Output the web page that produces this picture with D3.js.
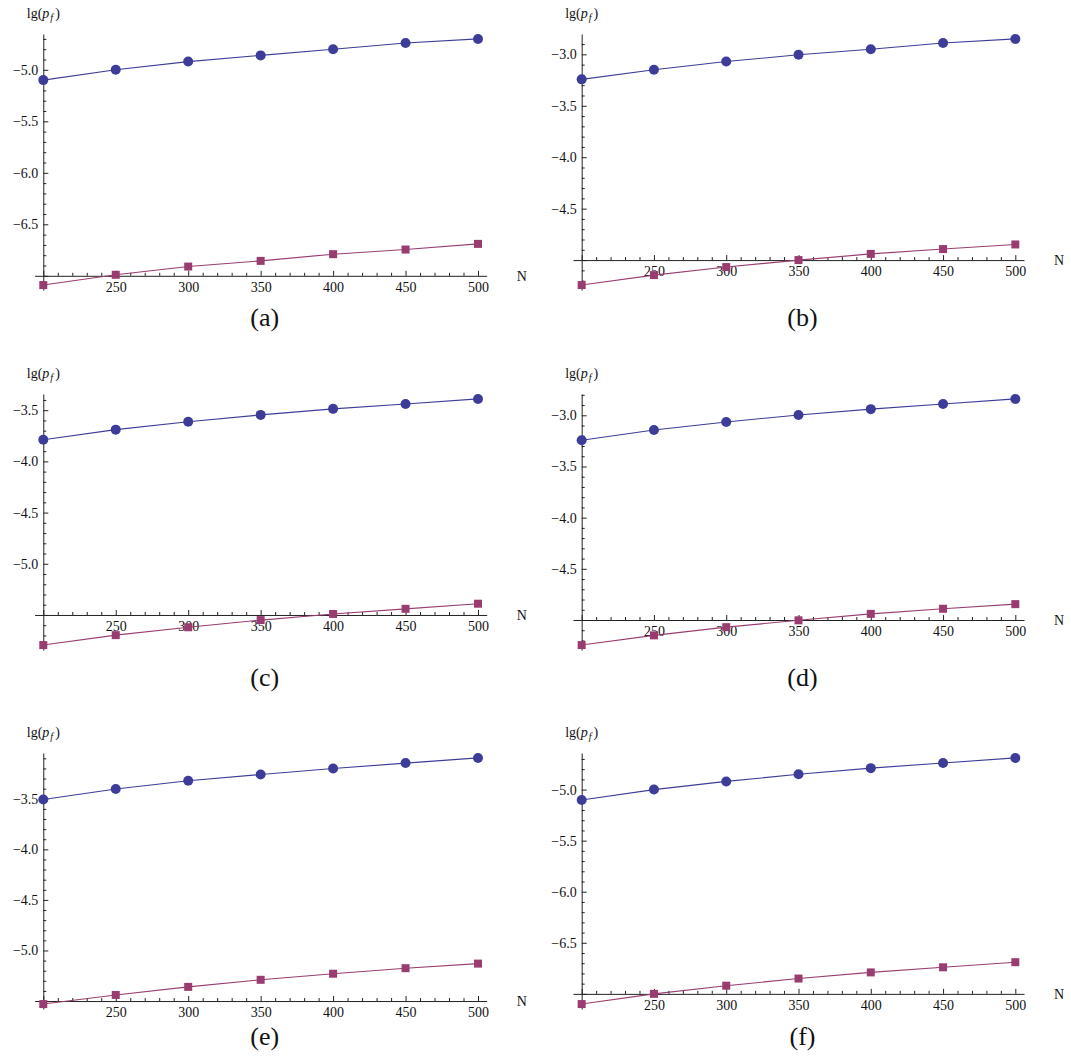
<!DOCTYPE html>
<html>
<head>
<meta charset="utf-8">
<script src="https://cdn.jsdelivr.net/npm/d3@7"></script>
<style>
  body { margin: 0; background: #fff; }
</style>
</head>
<body>
<div id="graph"></div>
<script>
//----------------------------------------------------------
// data
var g_n = [200, 250, 300, 350, 400, 450, 500];
var g_x_labels = [250, 300, 350, 400, 450, 500];
var g_panel_names = ["(a)", "(b)", "(c)", "(d)", "(e)", "(f)"];

var g_circle_a = [-5.10, -5.00, -4.92, -4.86, -4.80, -4.74, -4.70];
var g_square_a = [-7.09, -6.99, -6.91, -6.855, -6.79, -6.745, -6.69];
var g_circle_b = [-3.243, -3.149, -3.07, -3.004, -2.95, -2.89, -2.85];
var g_square_b = [-5.243, -5.146, -5.068, -5.0, -4.94, -4.893, -4.848];
var g_circle_c = [-3.788, -3.69, -3.613, -3.546, -3.487, -3.439, -3.39];
var g_square_c = [-5.794, -5.697, -5.62, -5.55, -5.49, -5.44, -5.39];
var g_circle_d = [-3.243, -3.143, -3.065, -2.997, -2.94, -2.89, -2.84];
var g_square_d = [-5.245, -5.15, -5.07, -5.003, -4.94, -4.89, -4.845];
var g_circle_e = [-3.507, -3.404, -3.322, -3.26, -3.20, -3.147, -3.096];
var g_square_e = [-5.53, -5.44, -5.36, -5.29, -5.23, -5.175, -5.13];
var g_circle_f = [-5.102, -5.0, -4.92, -4.85, -4.79, -4.74, -4.69];
var g_square_f = [-7.10, -7.0, -6.92, -6.85, -6.79, -6.74, -6.69];

// where the x axis crosses, and the labelled y ticks
var g_y_origin = [-7.0, -5.0, -5.5, -5.0, -5.5, -7.0];
var g_y_labels = [
    [-5.0, -5.5, -6.0, -6.5],
    [-3.0, -3.5, -4.0, -4.5],
    [-3.5, -4.0, -4.5, -5.0],
    [-3.0, -3.5, -4.0, -4.5],
    [-3.5, -4.0, -4.5, -5.0],
    [-5.0, -5.5, -6.0, -6.5]
];

var g_circles = [g_circle_a, g_circle_b, g_circle_c, g_circle_d, g_circle_e, g_circle_f];
var g_squares = [g_square_a, g_square_b, g_square_c, g_square_d, g_square_e, g_square_f];


//----------------------------------------------------------
// layout
var g_col_left = [34.6, 573];
var g_col_right = [486.7, 1024];
var g_row_top = [34, 394, 753];
var g_plot_height = 256;

var g_font = "Liberation Serif";
var g_blue = "#3d3d99";
var g_pink = "#993d71";

var g_svg = d3.select("#graph")
  .append("svg")
    .attr("width", 1071)
    .attr("height", 1057)
    .attr("font-family", g_font);


//----------------------------------------------------------
function Pad(lo, hi) {
    const d = (hi - lo) * 0.02;
    return [lo - d, hi + d];
}


function StyleLabels(g) {
    g.attr("font-family", g_font);
    g.selectAll("text")
        .attr("font-family", g_font)
        .attr("font-size", 14)
        .attr("fill", "#111");
}


function DrawPanel(index) {
    const col = index % 2;
    const row = Math.floor(index / 2);
    const circles = g_circles[index];
    const squares = g_squares[index];
    const origin = g_y_origin[index];

    const x_dom = Pad(d3.min(g_n), d3.max(g_n));
    const all = circles.concat(squares);
    const y_dom = Pad(d3.min(all), d3.max(all));

    const x = d3.scaleLinear()
        .domain(x_dom)
        .range([g_col_left[col], g_col_right[col]]);
    const y = d3.scaleLinear()
        .domain(y_dom)
        .range([g_row_top[row] + g_plot_height, g_row_top[row]]);

    const panel = g_svg.append("g");

    // x axis: minor then major ticks, drawn upwards
    const x_minor = d3.range(x_dom[0], x_dom[1], 1).filter(function (v) {
        return v % 10 == 0 && v % 50 != 0;
    });
    const x_major = d3.range(Math.ceil(x_dom[0] / 50) * 50, x_dom[1], 50);

    panel.append("g")
        .attr("transform", "translate(0," + y(origin) + ")")
        .call(d3.axisBottom(x).tickValues(x_minor).tickSizeInner(-3).tickSizeOuter(0).tickFormat(""))
        .call(function (g) { g.select(".domain").remove(); });

    panel.append("g")
        .attr("transform", "translate(0," + y(origin) + ")")
        .call(d3.axisBottom(x).tickValues(x_major).tickSizeInner(-5).tickSizeOuter(0).tickPadding(6)
            .tickFormat(function (v) { return g_x_labels.indexOf(v) >= 0 ? v : ""; }))
        .call(StyleLabels);

    // y axis at N = 200
    const y_lo = Math.ceil(y_dom[0] * 10 - 1e-6);
    const y_hi = Math.floor(y_dom[1] * 10 + 1e-6);
    const y_ticks = d3.range(y_lo, y_hi + 1).map(function (v) { return v / 10; });
    const y_minor = y_ticks.filter(function (v) {
        return Math.abs(v * 2 - Math.round(v * 2)) > 1e-6;
    });
    const y_major = y_ticks.filter(function (v) {
        return Math.abs(v * 2 - Math.round(v * 2)) <= 1e-6;
    });

    panel.append("g")
        .attr("transform", "translate(" + x(200) + ",0)")
        .call(d3.axisLeft(y).tickValues(y_minor).tickSizeInner(-3).tickSizeOuter(0).tickFormat(""))
        .call(function (g) { g.select(".domain").remove(); });

    const labels = g_y_labels[index];
    panel.append("g")
        .attr("transform", "translate(" + x(200) + ",0)")
        .call(d3.axisLeft(y).tickValues(y_major).tickSizeInner(-5).tickSizeOuter(0).tickPadding(5)
            .tickFormat(function (v) {
                const hit = labels.some(function (l) { return Math.abs(l - v) < 1e-6; });
                return hit ? d3.format(".1f")(v) : "";
            }))
        .call(StyleLabels);

    panel.selectAll(".domain, .tick line")
        .attr("stroke", "#222")
        .attr("stroke-width", 1);

    // axis names
    const ylab = panel.append("text")
        .attr("x", x(200))
        .attr("y", g_row_top[row] - 16)
        .attr("text-anchor", "middle")
        .attr("font-family", g_font)
        .attr("font-size", 14)
        .attr("fill", "#111");
    ylab.append("tspan").text("lg(");
    ylab.append("tspan").attr("font-style", "italic").text("p");
    ylab.append("tspan").attr("font-style", "italic").attr("font-size", 10).attr("dx", 1).attr("dy", 3).text("f");
    ylab.append("tspan").attr("dx", 2).attr("dy", -3).text(")");

    panel.append("text")
        .attr("x", x(x_dom[1]) + 35)
        .attr("y", y(origin) + 5)
        .attr("text-anchor", "middle")
        .attr("font-family", g_font)
        .attr("font-size", 14)
        .attr("fill", "#111")
        .text("N");

    // series
    const line = d3.line()
        .x(function (d, i) { return x(g_n[i]); })
        .y(function (d) { return y(d); });

    panel.append("path")
        .datum(circles)
        .attr("fill", "none")
        .attr("stroke", g_blue)
        .attr("stroke-width", 1.1)
        .attr("d", line);

    panel.append("path")
        .datum(squares)
        .attr("fill", "none")
        .attr("stroke", g_pink)
        .attr("stroke-width", 1.1)
        .attr("d", line);

    panel.selectAll("circle.pt")
        .data(circles)
        .join("circle")
          .attr("class", "pt")
          .attr("cx", function (d, i) { return x(g_n[i]); })
          .attr("cy", function (d) { return y(d); })
          .attr("r", 5)
          .attr("fill", g_blue);

    panel.selectAll("rect.pt")
        .data(squares)
        .join("rect")
          .attr("class", "pt")
          .attr("x", function (d, i) { return x(g_n[i]) - 4; })
          .attr("y", function (d) { return y(d) - 4; })
          .attr("width", 8)
          .attr("height", 8)
          .attr("fill", g_pink);

    // panel caption
    panel.append("text")
        .attr("x", (g_col_left[col] + g_col_right[col]) / 2 + 4)
        .attr("y", g_row_top[row] + 292)
        .attr("text-anchor", "middle")
        .attr("font-family", g_font)
        .attr("font-size", 26)
        .attr("fill", "#111")
        .text(g_panel_names[index]);
}


//----------------------------------------------------------
for (var i = 0; i < 6; i++) {
    DrawPanel(i);
}
</script>
</body>
</html>
